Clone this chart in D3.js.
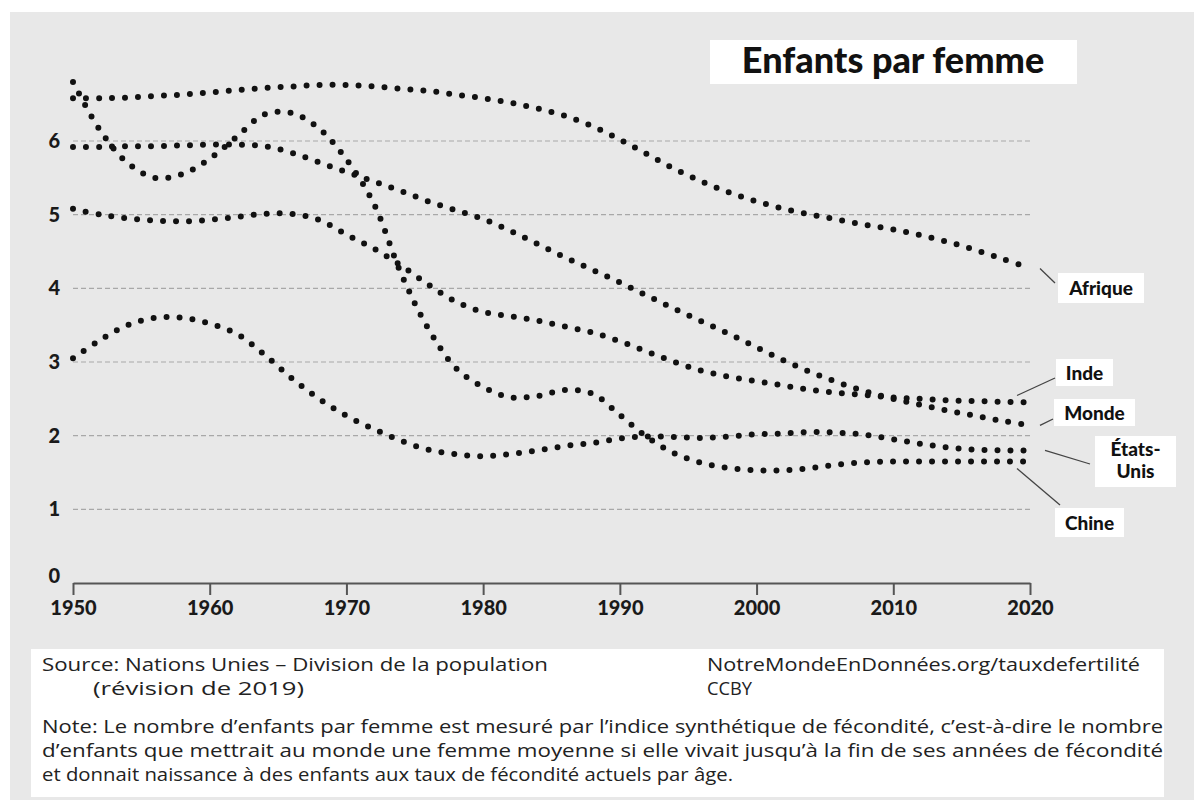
<!DOCTYPE html>
<html>
<head>
<meta charset="utf-8">
<script src="https://cdn.jsdelivr.net/npm/d3@7"></script>
<style>
  body { margin: 0; background: #fff; }
  svg { display: block; }
  .grid line { stroke: #a8a8a8; stroke-width: 1.2; stroke-dasharray: 5,3; }
  .axis text { font-family: Lato, sans-serif; font-weight: 900; font-size: 20px; fill: #1a1a1a; }
  .axis path, .axis line { stroke: #555; stroke-width: 2; }
  .serie { fill: none; stroke: #111; stroke-width: 6; stroke-linecap: round; stroke-dasharray: 0,13; }
  .lab { font-family: Lato, sans-serif; font-weight: 900; font-size: 19px; fill: #111; }
  .foot { font-family: "Open Sans", sans-serif; font-size: 17.5px; fill: #222; }
</style>
</head>
<body>
<svg id="chart" width="1194" height="800"></svg>
<script>
var years = d3.range(1950, 2021, 2);

var afrique = [6.58, 6.58, 6.59, 6.61, 6.63, 6.66, 6.69, 6.72, 6.74, 6.76, 6.76, 6.74,
    6.71, 6.68, 6.63, 6.58, 6.52, 6.44, 6.34, 6.20, 6.02, 5.82, 5.62, 5.45, 5.30, 5.18,
    5.08, 5.00, 4.93, 4.86, 4.80, 4.72, 4.63, 4.52, 4.40, 4.27];
var inde = [5.08, 5.00, 4.95, 4.92, 4.91, 4.93, 4.97, 5.01, 5.01, 4.93, 4.73, 4.54,
    4.31, 4.05, 3.82, 3.68, 3.62, 3.56, 3.48, 3.40, 3.28, 3.14, 3.00, 2.88, 2.80, 2.74,
    2.68, 2.62, 2.58, 2.55, 2.52, 2.50, 2.48, 2.47, 2.46, 2.45];
var monde = [5.92, 5.92, 5.93, 5.93, 5.94, 5.95, 5.95, 5.93, 5.84, 5.71, 5.58, 5.45,
    5.32, 5.18, 5.06, 4.94, 4.78, 4.60, 4.42, 4.25, 4.08, 3.90, 3.72, 3.55, 3.38, 3.20,
    3.02, 2.86, 2.72, 2.60, 2.50, 2.42, 2.34, 2.27, 2.20, 2.14];
var etatsUnis = [3.05, 3.30, 3.50, 3.60, 3.60, 3.52, 3.38, 3.10, 2.78, 2.50, 2.27, 2.09,
    1.93, 1.81, 1.75, 1.72, 1.75, 1.80, 1.86, 1.90, 1.96, 1.99, 1.98, 1.97, 1.99, 2.02,
    2.03, 2.05, 2.04, 2.01, 1.95, 1.89, 1.84, 1.81, 1.80, 1.80];
var chine = [6.80, 6.14, 5.70, 5.50, 5.55, 5.76, 6.06, 6.36, 6.38, 6.17, 5.75, 5.15,
    4.20, 3.45, 2.92, 2.66, 2.52, 2.54, 2.62, 2.57, 2.28, 1.98, 1.76, 1.63, 1.56, 1.53,
    1.53, 1.56, 1.61, 1.64, 1.65, 1.65, 1.65, 1.65, 1.65, 1.65];

var xTicks = [1950, 1960, 1970, 1980, 1990, 2000, 2010, 2020];
var yTicks = [0, 1, 2, 3, 4, 5, 6];
var titre = "Enfants par femme";
var noms = [["Afrique"], ["Inde"], ["Monde"], ["États-", "Unis"], ["Chine"]];
var sourceLignes = ["Source: Nations Unies – Division de la population", "(révision de 2019)"];
var lienLignes = ["NotreMondeEnDonnées.org/tauxdefertilité", "CCBY"];
var noteLignes = [
    "Note: Le nombre d’enfants par femme est mesuré par l’indice synthétique de fécondité, c’est-à-dire le nombre",
    "d’enfants que mettrait au monde une femme moyenne si elle vivait jusqu’à la fin de ses années de fécondité",
    "et donnait naissance à des enfants aux taux de fécondité actuels par âge."
];

var svg = d3.select("#chart");

// fond gris
svg.append("rect").attr("x", 10).attr("y", 12).attr("width", 1184).attr("height", 788).attr("fill", "#e8e8e8");

var x = d3.scaleLinear().domain([1950, 2020]).range([73, 1030]);
var y = d3.scaleLinear().domain([0, 6]).range([583, 141]);

// grille
svg.append("g").attr("class", "grid")
    .selectAll("line").data(yTicks.filter(function(d) { return d > 0; }))
    .enter().append("line")
    .attr("x1", x(1950)).attr("x2", x(2020))
    .attr("y1", function(d) { return y(d); }).attr("y2", function(d) { return y(d); });

// axes
var xAxis = d3.axisBottom(x).tickValues(xTicks).tickFormat(d3.format("d"))
    .tickSizeInner(12).tickSizeOuter(0).tickPadding(6);
svg.append("g").attr("class", "axis").attr("transform", "translate(0," + y(0) + ")").call(xAxis);

var yAxis = d3.axisLeft(y).tickValues(yTicks).tickFormat(d3.format("d")).tickSize(0).tickPadding(0);
var gy = svg.append("g").attr("class", "axis").attr("transform", "translate(60,0)").call(yAxis);
gy.select(".domain").remove();
gy.selectAll(".tick").filter(function(d) { return d === 0; }).select("text").attr("dy", "-0.05em");

// courbes
var line = d3.line()
    .curve(d3.curveCatmullRom.alpha(0.5))
    .x(function(d) { return x(d[0]); })
    .y(function(d) { return y(d[1]); });

var series = [afrique, inde, monde, etatsUnis, chine];
series.forEach(function(vals) {
    svg.append("path").attr("class", "serie")
        .datum(years.map(function(yr, i) { return [yr, vals[i]]; }))
        .attr("d", line);
});

// titre
svg.append("rect").attr("x", 710).attr("y", 40).attr("width", 367).attr("height", 44).attr("fill", "#fff");
svg.append("text").attr("x", 893).attr("y", 73).attr("text-anchor", "middle")
    .style("font-family", "Lato, sans-serif").style("font-weight", 900).style("font-size", "36px")
    .style("fill", "#111").text(titre);

// étiquettes des séries
var labelLayout = [
    { box: [1058, 273, 86, 30], lead: [1040, 1055, 283], dy: 0 },
    { box: [1056, 359, 57, 27], lead: [1017, 1055, 378], dy: -7 },
    { box: [1054, 399, 81, 27], lead: [1040, 1053, 419], dy: 0 },
    { box: [1095, 436, 81, 51], lead: [1045, 1090, 464], dy: 0 },
    { box: [1055, 508, 69, 29], lead: [1017, 1060, 505], dy: 7 }
];
series.forEach(function(vals, i) {
    var L = labelLayout[i];
    var yEnd = y(vals[vals.length - 1]);
    svg.append("line")
        .attr("x1", L.lead[0]).attr("y1", yEnd + L.dy)
        .attr("x2", L.lead[1]).attr("y2", L.lead[2])
        .attr("stroke", "#444").attr("stroke-width", 1.3);
    svg.append("rect").attr("x", L.box[0]).attr("y", L.box[1])
        .attr("width", L.box[2]).attr("height", L.box[3]).attr("fill", "#fff");
    var n = noms[i].length;
    noms[i].forEach(function(t, j) {
        svg.append("text").attr("class", "lab")
            .attr("x", L.box[0] + L.box[2] / 2)
            .attr("y", L.box[1] + (n === 1 ? L.box[3] / 2 + 7 : 20 + j * 22))
            .attr("text-anchor", "middle")
            .text(t);
    });
});

// pied
var foot = svg.append("g");
foot.append("rect").attr("x", 31).attr("y", 649).attr("width", 1133).attr("height", 148).attr("fill", "#fff");
function ligne(t, px, py, w) {
    var tx = foot.append("text").attr("class", "foot").attr("x", px).attr("y", py).text(t);
    if (w) tx.attr("textLength", w).attr("lengthAdjust", "spacingAndGlyphs");
}
ligne(sourceLignes[0], 42, 671, 506);
ligne(sourceLignes[1], 93, 695, 211);
ligne(lienLignes[0], 707, 671, 433);
ligne(lienLignes[1], 707, 695, 45);
noteLignes.forEach(function(t, i) {
    ligne(t, 42, 733 + i * 24, [1121, 1121, 691][i]);
});
</script>
</body>
</html>
